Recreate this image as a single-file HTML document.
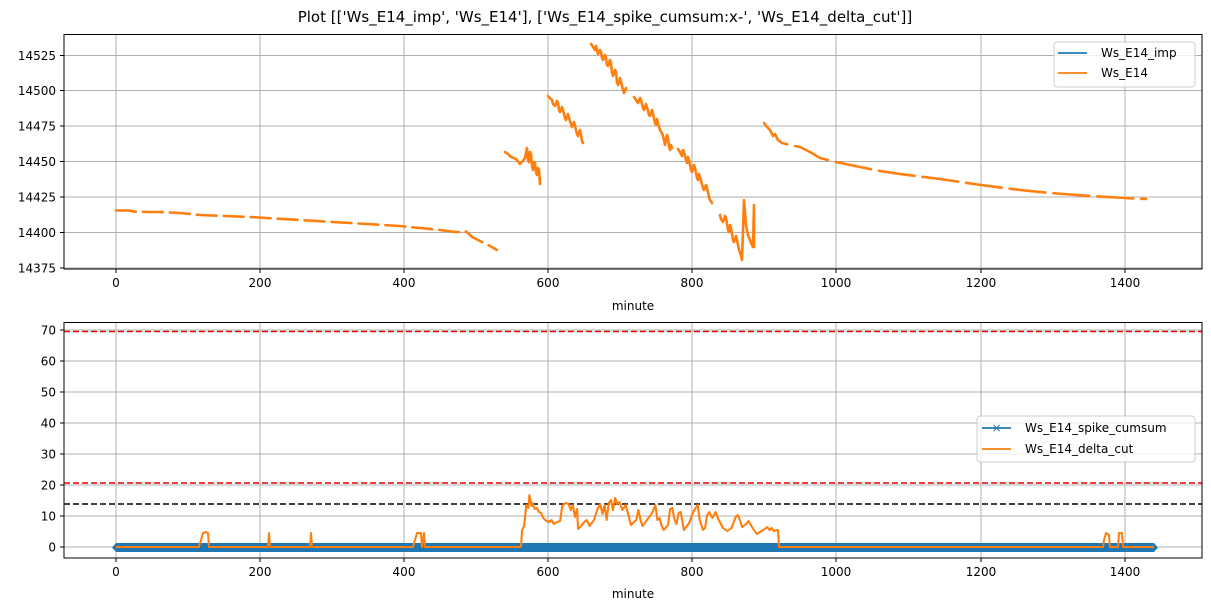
<!DOCTYPE html>
<html><head><meta charset="utf-8"><style>
body{margin:0;background:#fff;}
svg{display:block;font-family:"DejaVu Sans","Liberation Sans",sans-serif;}
</style></head><body>
<svg width="1211" height="611" viewBox="0 0 1211 611" xmlns="http://www.w3.org/2000/svg">
<rect width="1211" height="611" fill="#fff"/>
<text x="605" y="22" font-size="15" text-anchor="middle">Plot [['Ws_E14_imp', 'Ws_E14'], ['Ws_E14_spike_cumsum:x-', 'Ws_E14_delta_cut']]</text>

<!-- TOP AXES -->
<g stroke="#b0b0b0" stroke-width="1">
<line x1="116" y1="34" x2="116" y2="269"/><line x1="260" y1="34" x2="260" y2="269"/><line x1="404" y1="34" x2="404" y2="269"/><line x1="548" y1="34" x2="548" y2="269"/><line x1="692" y1="34" x2="692" y2="269"/><line x1="836" y1="34" x2="836" y2="269"/><line x1="981" y1="34" x2="981" y2="269"/><line x1="1125" y1="34" x2="1125" y2="269"/>
<line x1="64" y1="55.5" x2="1202" y2="55.5"/><line x1="64" y1="90.5" x2="1202" y2="90.5"/><line x1="64" y1="126" x2="1202" y2="126"/><line x1="64" y1="161.5" x2="1202" y2="161.5"/><line x1="64" y1="197" x2="1202" y2="197"/><line x1="64" y1="232.5" x2="1202" y2="232.5"/><line x1="64" y1="268" x2="1202" y2="268"/>
</g>
<g fill="none" stroke="#ff7f0e" stroke-width="2.6" stroke-linejoin="round" stroke-linecap="round">
<polyline points="116,210.5 130,210.5 133,211.5 150,212 160,212 180,213 190,214 200,215 250,217 300,220 350,223 400,226 440,230 455,232 462,232 465,231 468,233 472,237 480,241 490,246 497,250" stroke-dasharray="20,7"/>
<polyline points="505,152 508,154 511,157 514,158 517,160 520,164 522,162 525,158 527,148 528,160 529,162 530,152 531,154 532,166 533,170 534,162 535,163 536,172 537,175 538,168 539,170 540,184 540,178"/>
<polyline points="548,96 550,98 552,100 553,104 555,106 557,101 558,103 559,110 560,112 562,107 563,110 565,118 566,120 568,114 569,118 571,124 572,127 574,122 575,126 577,134 578,136 580,130 581,135 582,141 583,143"/>
<polyline points="591,44 593,47 595,50 596,46 598,54 600,50 601,52 602,58 603,60 605,55 606,58 607,65 608,66 610,60 611,63 612,73 613,76 615,70 616,72 617,82 618,85 620,78 621,82 623,90 624,93 626,88 626,90"/>
<polyline points="634,97 636,100 638,103 640,98 641,100 643,108 644,110 646,104 647,107 649,115 650,116 652,110 653,114 655,123 656,125 657,119 658,123 660,130 662,133 664,140 665,145 667,135 668,138 669,146 670,150 671,145 672,148"/>
<polyline points="678,149 680,152 682,156 683,150 684,152 686,160 687,163 688,157 689,160 691,170 692,172 694,165 695,168 697,178 698,180 699,174 700,177 703,188 704,190 706,185 707,188 709,197 710,200 712,203"/>
<polyline points="720,215 721,219 723,222 725,216 726,218 728,230 729,232 730,225 731,228 733,240 734,242 736,236 737,240 739,250 740,252 742,260 743,230 744,200 746,225 748,235 751,243 753,247 754,205 754,247"/>
<polyline points="764,123 767,127 770,130 773,136 775,134 778,140 782,143 790,145 800,147 810,152 820,158 836,162 860,167 880,171 900,174 940,179 981,185 1020,190 1050,193 1090,196 1125,198 1146,199" stroke-dasharray="36,8"/>
</g>
<rect x="64" y="34.5" width="1138" height="234.5" fill="none" stroke="#000" stroke-width="1"/>
<g font-size="12" text-anchor="end">
<text x="56" y="60">14525</text><text x="56" y="95">14500</text><text x="56" y="130.5">14475</text><text x="56" y="166">14450</text><text x="56" y="201.5">14425</text><text x="56" y="237">14400</text><text x="56" y="272.5">14375</text>
</g>
<g stroke="#000"><line x1="60" y1="55.5" x2="64" y2="55.5"/><line x1="60" y1="90.5" x2="64" y2="90.5"/><line x1="60" y1="126" x2="64" y2="126"/><line x1="60" y1="161.5" x2="64" y2="161.5"/><line x1="60" y1="197" x2="64" y2="197"/><line x1="60" y1="232.5" x2="64" y2="232.5"/><line x1="60" y1="268" x2="64" y2="268"/>
<line x1="116" y1="269" x2="116" y2="273"/><line x1="260" y1="269" x2="260" y2="273"/><line x1="404" y1="269" x2="404" y2="273"/><line x1="548" y1="269" x2="548" y2="273"/><line x1="692" y1="269" x2="692" y2="273"/><line x1="836" y1="269" x2="836" y2="273"/><line x1="981" y1="269" x2="981" y2="273"/><line x1="1125" y1="269" x2="1125" y2="273"/></g>
<g font-size="12" text-anchor="middle">
<text x="116" y="287">0</text><text x="260" y="287">200</text><text x="404" y="287">400</text><text x="548" y="287">600</text><text x="692" y="287">800</text><text x="836" y="287">1000</text><text x="981" y="287">1200</text><text x="1125" y="287">1400</text>
<text x="633" y="310">minute</text>
</g>
<rect x="1054" y="42" width="141" height="45" rx="3" fill="#fff" fill-opacity="0.8" stroke="#ccc"/>
<line x1="1058" y1="53" x2="1087" y2="53" stroke="#1f77b4" stroke-width="1.8"/>
<line x1="1058" y1="73" x2="1087" y2="73" stroke="#ff7f0e" stroke-width="1.8"/>
<text x="1101" y="57" font-size="12">Ws_E14_imp</text>
<text x="1101" y="77" font-size="12">Ws_E14</text>

<!-- BOTTOM AXES -->
<g stroke="#b0b0b0" stroke-width="1">
<line x1="116" y1="322" x2="116" y2="558"/><line x1="260" y1="322" x2="260" y2="558"/><line x1="404" y1="322" x2="404" y2="558"/><line x1="548" y1="322" x2="548" y2="558"/><line x1="692" y1="322" x2="692" y2="558"/><line x1="836" y1="322" x2="836" y2="558"/><line x1="981" y1="322" x2="981" y2="558"/><line x1="1125" y1="322" x2="1125" y2="558"/>
<line x1="64" y1="330" x2="1202" y2="330"/><line x1="64" y1="361" x2="1202" y2="361"/><line x1="64" y1="392" x2="1202" y2="392"/><line x1="64" y1="423" x2="1202" y2="423"/><line x1="64" y1="454" x2="1202" y2="454"/><line x1="64" y1="485" x2="1202" y2="485"/><line x1="64" y1="516" x2="1202" y2="516"/><line x1="64" y1="547" x2="1202" y2="547"/>
</g>
<line x1="64" y1="331.5" x2="1202" y2="331.5" stroke="#e00" stroke-width="1.6" stroke-dasharray="6,3"/>
<line x1="64" y1="483" x2="1202" y2="483" stroke="#e00" stroke-width="1.6" stroke-dasharray="6,3"/>
<line x1="64" y1="504" x2="1202" y2="504" stroke="#000" stroke-width="1.6" stroke-dasharray="6,3"/>
<rect x="116" y="543" width="1038" height="9" fill="#1f77b4"/>
<polygon points="1154,543 1158,547.5 1154,552" fill="#1f77b4"/>
<polygon points="116,543 112,547.5 116,552" fill="#1f77b4"/>
<polyline fill="none" stroke="#ff7f0e" stroke-width="2" stroke-linejoin="round" points="116,547 199,547 201,540 203,533 206,532 208,533 209,547 268,547 269,533 270,547 310,547 311,533 312,547 413,547 415,540 417,533 421,533 422,547 424,533 425,547 521,547"/>
<polyline fill="none" stroke="#ff7f0e" stroke-width="2" stroke-linejoin="round" transform="translate(521,0) scale(1.0576,1) translate(-521,0)" points="521,547 522,530 524,526 525,515 526,505 528,508 529,495 531,506 532,503 534,509 536,508 538,512 540,513 542,518 545,521 548,522 550,520 552,524 555,522 558,521 560,506 563,503 566,504 568,510 570,505 572,517 574,509 575,529 577,527 580,523 583,520 586,526 590,520 593,510 596,504 598,514 600,505 602,520 604,503 606,500 608,510 610,498 612,504 614,502 617,510 620,505 625,525 630,520 632,510 634,520 636,526 640,520 645,513 648,505 650,520 652,518 654,526 656,530 660,525 662,509 664,508 666,519 668,524 670,513 672,512 675,530 680,523 683,514 686,508 688,505 690,520 693,530 695,528 697,515 699,512 702,518 705,512 708,520 712,528 716,531 720,528 724,517 726,515 728,520 730,527 734,524 736,521 740,528 744,534 750,530 754,527 756,530 758,528 760,531 763,530 764,530 765,547"/>
<polyline fill="none" stroke="#ff7f0e" stroke-width="2" stroke-linejoin="round" points="778,547 1103,547 1104,540 1106,533 1109,535 1110,547 1118,547 1119,533 1122,533 1123,547 1154,547"/>
<rect x="64" y="322.5" width="1138" height="235.5" fill="none" stroke="#000" stroke-width="1"/>
<g font-size="12" text-anchor="end">
<text x="56" y="334.5">70</text><text x="56" y="365.5">60</text><text x="56" y="396.5">50</text><text x="56" y="427.5">40</text><text x="56" y="458.5">30</text><text x="56" y="489.5">20</text><text x="56" y="520.5">10</text><text x="56" y="551.5">0</text>
</g>
<g stroke="#000"><line x1="60" y1="330" x2="64" y2="330"/><line x1="60" y1="361" x2="64" y2="361"/><line x1="60" y1="392" x2="64" y2="392"/><line x1="60" y1="423" x2="64" y2="423"/><line x1="60" y1="454" x2="64" y2="454"/><line x1="60" y1="485" x2="64" y2="485"/><line x1="60" y1="516" x2="64" y2="516"/><line x1="60" y1="547" x2="64" y2="547"/>
<line x1="116" y1="558" x2="116" y2="562"/><line x1="260" y1="558" x2="260" y2="562"/><line x1="404" y1="558" x2="404" y2="562"/><line x1="548" y1="558" x2="548" y2="562"/><line x1="692" y1="558" x2="692" y2="562"/><line x1="836" y1="558" x2="836" y2="562"/><line x1="981" y1="558" x2="981" y2="562"/><line x1="1125" y1="558" x2="1125" y2="562"/></g>
<g font-size="12" text-anchor="middle">
<text x="116" y="576">0</text><text x="260" y="576">200</text><text x="404" y="576">400</text><text x="548" y="576">600</text><text x="692" y="576">800</text><text x="836" y="576">1000</text><text x="981" y="576">1200</text><text x="1125" y="576">1400</text>
<text x="633" y="598">minute</text>
</g>
<rect x="977" y="416" width="218" height="46" rx="3" fill="#fff" fill-opacity="0.8" stroke="#ccc"/>
<line x1="982" y1="428" x2="1011" y2="428" stroke="#1f77b4" stroke-width="1.8"/>
<text x="996.5" y="432" font-size="12" text-anchor="middle" fill="#1f77b4">×</text>
<line x1="982" y1="449" x2="1011" y2="449" stroke="#ff7f0e" stroke-width="1.8"/>
<text x="1025" y="432" font-size="12">Ws_E14_spike_cumsum</text>
<text x="1025" y="453" font-size="12">Ws_E14_delta_cut</text>
</svg>
</body></html>
